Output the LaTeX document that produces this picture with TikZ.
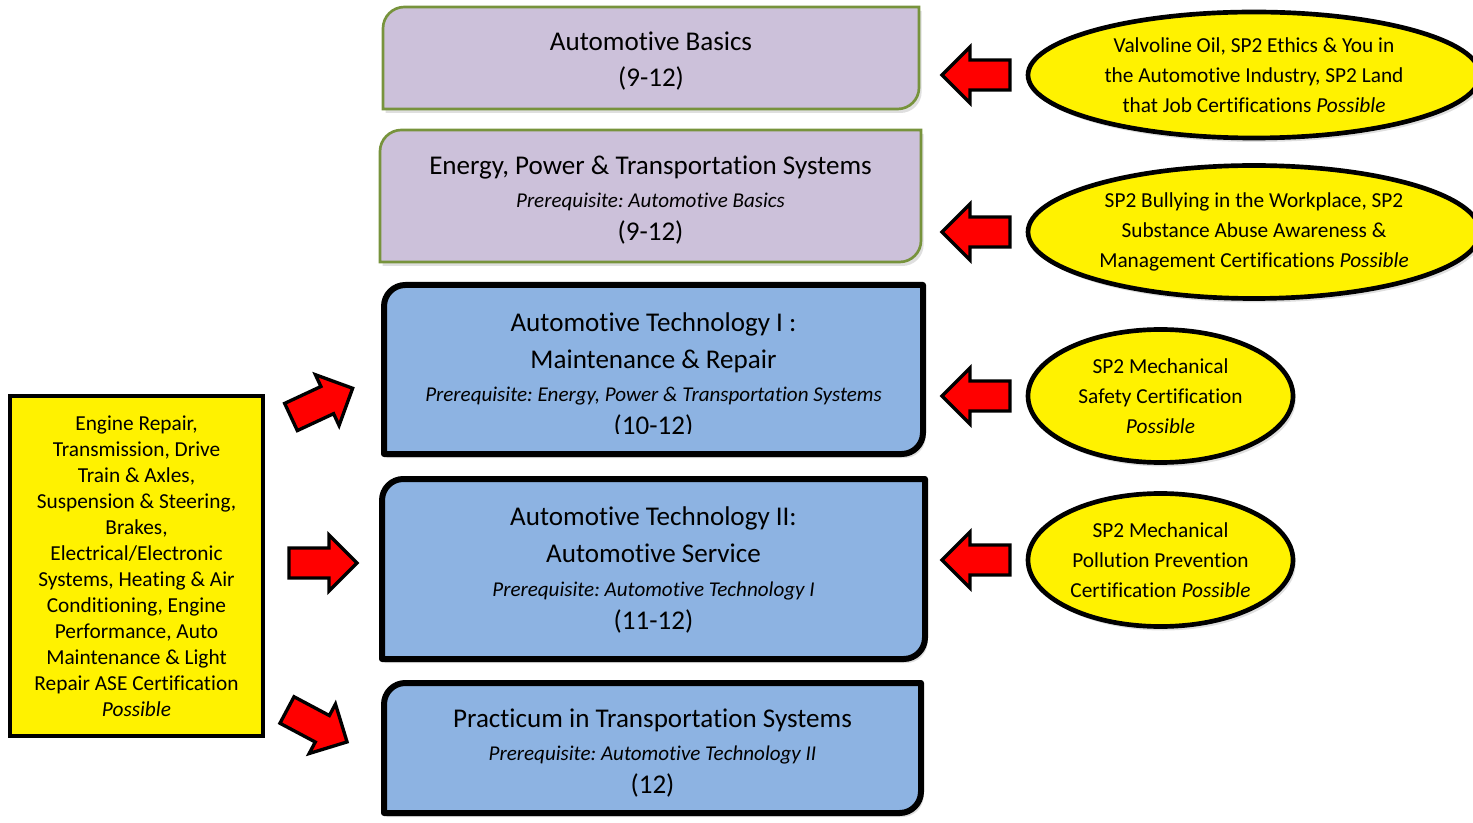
\documentclass[tikz,border=0pt]{standalone}
\usepackage{fontspec}
\setmainfont{Carlito}[Ligatures=NoCommon]
\usepackage{tikz}
\usetikzlibrary{shapes.geometric,shadows,backgrounds,positioning}
\definecolor{lavender}{HTML}{CCC1DA}
\definecolor{olivegreen}{HTML}{77933C}
\definecolor{skyblue}{HTML}{8DB3E2}
\frenchspacing
\newcommand{\framer}{16pt}
\newcommand{\prereq}[1]{{\fontsize{15.8}{25}\selectfont\itshape #1}}
\newcommand{\cutframe}[3]{\draw[#2] ([yshift=#3]#1.south west) -- ([yshift=#3-\framer]#1.north west)
  arc[start angle=180, end angle=90, radius=\framer] -- ([yshift=#3]#1.north east)
  -- ([yshift=#3+\framer]#1.south east) arc[start angle=0, end angle=-90, radius=\framer] -- cycle;}
\tikzset{
  course/.style = {align=center, inner sep=0pt, outer sep=0pt, font=\fontsize{20.3}{25}\selectfont},
  lavbox/.style = {fill=lavender, draw=olivegreen, line width=2pt,
    drop shadow={shadow xshift=2pt, shadow yshift=-3pt, opacity=0.25}},
  bluebox/.style = {fill=skyblue, draw=black, line width=4.5pt, line join=round,
    drop shadow={shadow xshift=2pt, shadow yshift=-3pt, opacity=0.25}},
  cert/.style = {ellipse, draw, fill=yellow, line width=3.5pt, inner sep=0pt, outer sep=0pt, align=center,
    font=\fontsize{16}{22.5}\selectfont, drop shadow={shadow xshift=2pt, shadow yshift=-3pt, opacity=0.25}},
  arrowshape/.style = {fill=red, draw=black, line width=2.5pt, line join=miter},
  redarrow/.pic = {\draw[arrowshape] (0,-15) -- (40,-15) -- (40,-28) -- (68,0) -- (40,28) -- (40,15) -- (0,15) -- cycle;}
}

\begin{document}
\begin{tikzpicture}[x=0.75pt, y=0.75pt]
\useasboundingbox (0,0) rectangle (1473,822);
\clip (0,0) rectangle (1473,822);
\node[course, minimum width=402pt, minimum height=76.5pt] (basics) at (651,761) {Automotive Basics\\[2pt] (9-12)};
\node[course, minimum width=405.75pt, minimum height=99pt] (energy) at (650.5,622) {Energy, Power \& Transportation Systems\\
  \prereq{Prerequisite: Automotive Basics}\\ (9-12)};
\begin{scope}
\clip (381,389) rectangle (926,540);
\node[course, minimum width=404.25pt, minimum height=126.75pt] (tech1) at (653.5,446.5) {Automotive Technology I :\\[2.5pt]
  Maintenance \& Repair\\ \prereq{Prerequisite: Energy, Power \& Transportation Systems}\\ (10-12)};
\end{scope}
\node[course, minimum width=407.25pt, minimum height=135pt] (tech2) at (653.5,252) {Automotive Technology II:\\[3pt]
  Automotive Service\\ \prereq{Prerequisite: Automotive Technology I}\\ (11-12)};
\node[course, minimum width=402.75pt, minimum height=97.5pt] (practicum) at (652.5,69) {Practicum in Transportation Systems\\
  \prereq{Prerequisite: Automotive Technology II}\\ (12)};
\begin{scope}[on background layer]
\cutframe{basics}{lavbox}{2.25pt}
\cutframe{energy}{lavbox}{3pt}
\cutframe{tech1}{bluebox}{4.5pt}
\cutframe{tech2}{bluebox}{0.75pt}
\cutframe{practicum}{bluebox}{3.75pt}
\end{scope}
\node[draw, fill=yellow, line width=2.5pt, minimum width=189.75pt, minimum height=255pt, inner sep=0pt, align=center,
  font=\fontsize{16}{19.5}\selectfont] (skills) at (136.5,256) {Engine Repair,\\ Transmission, Drive\\ Train \& Axles,\\
  Suspension \& Steering,\\ Brakes,\\ Electrical/Electronic\\ Systems, Heating \& Air\\ Conditioning, Engine\\
  Performance, Auto\\ Maintenance \& Light\\ Repair ASE Certification\\ \textit{Possible}};
\node[cert, minimum width=339pt, minimum height=94.5pt] (valvoline) at (1254,747) {Valvoline Oil, SP2 Ethics \& You in\\
  the Automotive Industry, SP2 Land\\ that Job Certifications \textit{Possible}};
\node[cert, minimum width=339pt, minimum height=99.75pt] (bullying) at (1254,590) {SP2 Bullying in the Workplace, SP2\\
  Substance Abuse Awareness \&\\ Management Certifications \textit{Possible}};
\node[cert, minimum width=198.75pt, minimum height=99.75pt] (safety) at (1160.5,426) {SP2 Mechanical\\
  Safety Certification\\ \textit{Possible}};
\node[cert, minimum width=198.75pt, minimum height=99.75pt] (pollution) at (1160.5,262) {SP2 Mechanical\\
  Pollution Prevention\\ Certification \textit{Possible}};
\pic[rotate=180] at ([xshift=-13.5pt]valvoline.west) {redarrow};
\pic[rotate=180] at ([xshift=-13.5pt]bullying.west) {redarrow};
\pic[rotate=180] at ([xshift=-13.5pt]safety.west) {redarrow};
\pic[rotate=180] at ([xshift=-13.5pt]pollution.west) {redarrow};
\pic[rotate=25] at (291,405) {redarrow};
\pic at (289,259) {redarrow};
\pic[rotate=-28] at (287,112) {redarrow};
\end{tikzpicture}
\end{document}
